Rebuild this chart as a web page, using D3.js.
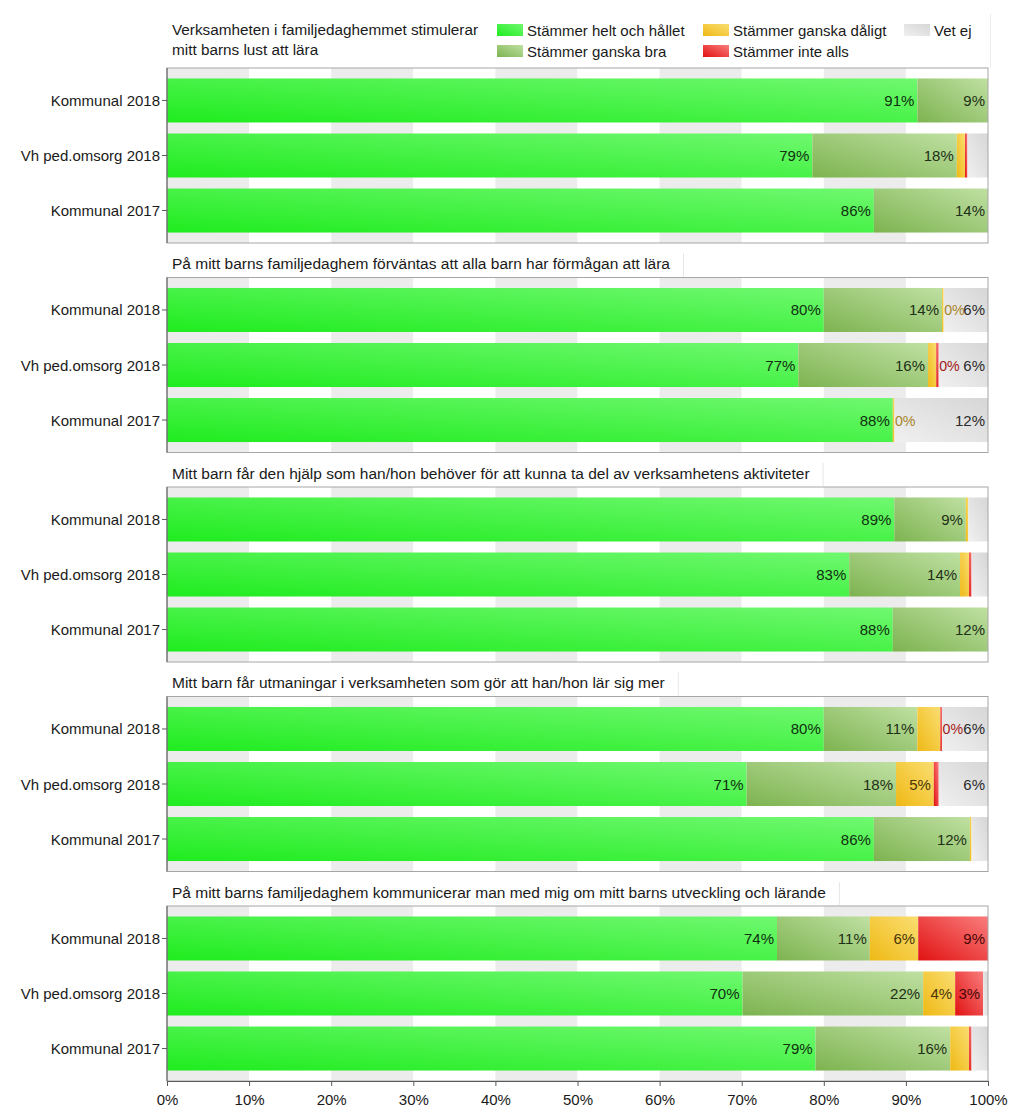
<!DOCTYPE html>
<html><head><meta charset="utf-8">
<script src="https://cdn.jsdelivr.net/npm/d3@7"></script>
<style>
body{margin:0;background:#fff;}
text{font-family:"Liberation Sans",Arial,sans-serif;}
</style></head>
<body><svg id="c" width="1024" height="1116"></svg>
<script>
const categories = ["Kommunal 2018", "Vh ped.omsorg 2018", "Kommunal 2017"];
const seriesNames = ["Stämmer helt och hållet", "Stämmer ganska bra", "Stämmer ganska dåligt", "Stämmer inte alls", "Vet ej"];
const questions = [
  ["Verksamheten i familjedaghemmet stimulerar", "mitt barns lust att lära"],
  ["På mitt barns familjedaghem förväntas att alla barn har förmågan att lära"],
  ["Mitt barn får den hjälp som han/hon behöver för att kunna ta del av verksamhetens aktiviteter"],
  ["Mitt barn får utmaningar i verksamheten som gör att han/hon lär sig mer"],
  ["På mitt barns familjedaghem kommunicerar man med mig om mitt barns utveckling och lärande"]
];
// values per question: rows = categories, columns = series (%)
const q1Values = [[91.4, 8.6, 0, 0, 0], [78.6, 17.6, 1.0, 0.3, 2.5], [86.1, 13.9, 0, 0, 0]];
const q2Values = [[80.0, 14.4, 0.2, 0, 5.4], [76.9, 15.8, 1.0, 0.3, 6.0], [88.4, 0, 0.2, 0, 11.4]];
const q3Values = [[88.6, 8.7, 0.3, 0, 2.4], [83.1, 13.5, 1.1, 0.3, 2.0], [88.4, 11.6, 0, 0, 0]];
const q4Values = [[80.0, 11.4, 2.8, 0.2, 5.6], [70.6, 18.2, 4.6, 0.6, 6.0], [86.1, 11.7, 0.2, 0, 2.0]];
const q5Values = [[74.3, 11.3, 5.9, 8.5, 0], [70.1, 22.0, 3.9, 3.4, 0.6], [79.0, 16.4, 2.3, 0.3, 2.0]];
// value labels shown in the chart (null = not shown)
const q1Labels = [["91%", "9%", null, null, null], ["79%", "18%", null, null, null], ["86%", "14%", null, null, null]];
const q2Labels = [["80%", "14%", "0%", null, "6%"], ["77%", "16%", null, "0%", "6%"], ["88%", null, "0%", null, "12%"]];
const q3Labels = [["89%", "9%", null, null, null], ["83%", "14%", null, null, null], ["88%", "12%", null, null, null]];
const q4Labels = [["80%", "11%", null, "0%", "6%"], ["71%", "18%", "5%", null, "6%"], ["86%", "12%", null, null, null]];
const q5Labels = [["74%", "11%", "6%", "9%", null], ["70%", "22%", "4%", "3%", null], ["79%", "16%", null, null, null]];
const xTicks = [0, 10, 20, 30, 40, 50, 60, 70, 80, 90, 100];

const allValues = [q1Values, q2Values, q3Values, q4Values, q5Values];
const allLabels = [q1Labels, q2Labels, q3Labels, q4Labels, q5Labels];

const gradStops = [["#1fec1f", "#70f870"], ["#7db350", "#bfe0a2"], ["#efb915", "#fade72"], ["#e11212", "#fa7d7d"], ["#f0f0f0", "#d6d6d6"]];
const labelIn = ["#103010", "#1e3016", "#4a3608", "#4a0606", "#2a2a2a"];
const labelOut = ["#103010", "#1e3016", "#a8852a", "#a32020", "#2a2a2a"];

const svg = d3.select("#c");
const defs = svg.append("defs");
gradStops.forEach((s, i) => {
  const g = defs.append("linearGradient").attr("id", "g" + i)
    .attr("x1", 0).attr("y1", 1).attr("x2", 1).attr("y2", 0);
  g.append("stop").attr("offset", 0).attr("stop-color", s[0]);
  g.append("stop").attr("offset", 1).attr("stop-color", s[1]);
});
const sep = defs.append("linearGradient").attr("id", "sep");
sep.append("stop").attr("offset", 0).attr("stop-color", "#ffffff");
sep.append("stop").attr("offset", 0.5).attr("stop-color", "#b4b4b4");
sep.append("stop").attr("offset", 1).attr("stop-color", "#e6e6e6");

const FS = 15;
const x = d3.scaleLinear().domain([0, 100]).range([167, 988]);
const panelTop = d3.scaleLinear().domain([0, 4]).range([68, 906]);
const frameH = 175;

questions.forEach((q, pi) => {
  const top = panelTop(pi);
  const g = svg.append("g");
  const y = d3.scaleBand().domain(categories).range([top, top + frameH]).paddingInner(0.2).paddingOuter(0.19);

  // title
  if (pi === 0) {
    q.forEach((line, li) => g.append("text").attr("x", 172).attr("y", 35 + li * 20)
      .attr("font-size", 15.3).attr("fill", "#1a1a1a").text(line));
  } else {
    const t = g.append("text").attr("x", 172).attr("y", top - 8.5)
      .attr("font-size", 15.5).attr("fill", "#1a1a1a").text(q[0]);
    const w = t.node().getComputedTextLength();
    g.append("line").attr("x1", 172 + w + 13.5).attr("x2", 172 + w + 13.5)
      .attr("y1", top - 24).attr("y2", top - 1).attr("stroke", "#e6e6e6");
  }

  // background stripes
  g.selectAll("rect.stripe").data(d3.range(0, 100, 10)).join("rect")
    .attr("x", d => x(d)).attr("width", d => x(d + 10) - x(d))
    .attr("y", top).attr("height", frameH)
    .attr("fill", (d, i) => i % 2 === 0 ? "#ececec" : "#ffffff");

  // bars
  const vals = allValues[pi], labs = allLabels[pi];
  categories.forEach((cat, ri) => {
    const row = vals[ri];
    const ends = d3.cumsum(row);
    row.forEach((v, si) => {
      if (v <= 0) return;
      const x0 = x(ends[si] - v), x1 = x(ends[si]);
      g.append("rect").attr("x", x0).attr("y", y(cat)).attr("width", Math.max(x1 - x0, 1))
        .attr("height", y.bandwidth()).attr("fill", "url(#g" + si + ")");
    });
    row.forEach((v, si) => {
      const lab = labs[ri][si];
      if (!lab) return;
      const x0 = x(ends[si] - v), x1 = x(ends[si]);
      const t = g.append("text").attr("y", y(cat) + y.bandwidth() / 2 + 5.5)
        .attr("font-size", FS).text(lab);
      const w = t.node().getComputedTextLength();
      if (w + 4 <= x1 - x0) {
        t.attr("x", x1 - 3).attr("text-anchor", "end").attr("fill", labelIn[si]);
      } else {
        t.attr("x", x1 + 0.5).attr("text-anchor", "start").attr("font-size", 14.2)
          .attr("fill", labelOut[si]);
      }
    });
  });

  // frame
  g.append("rect").attr("x", x(0)).attr("y", top).attr("width", x(100) - x(0)).attr("height", frameH)
    .attr("fill", "none").attr("stroke", "#a6a6a6");
  g.append("line").attr("x1", x(0)).attr("x2", x(0)).attr("y1", top).attr("y2", top + frameH)
    .attr("stroke", "#5a5a5a");

  // y axis labels and ticks
  categories.forEach((cat, ri) => {
    const cy = y(cat) + y.bandwidth() / 2;
    g.append("text").attr("x", 160).attr("y", cy + 5.5).attr("text-anchor", "end")
      .attr("font-size", FS).attr("fill", "#1a1a1a").text(cat);
    g.append("line").attr("x1", 162).attr("x2", 167).attr("y1", cy).attr("y2", cy).attr("stroke", "#5a5a5a");
    if (ri < categories.length - 1) {
      const sy = Math.round(cy + y.step() / 2) + 0.5;
      g.append("line").attr("x1", 15).attr("x2", 163).attr("y1", sy).attr("y2", sy)
        .attr("stroke", "url(#sep)").attr("stroke-width", 1);
    }
  });
});

// x axis
const lastBottom = panelTop(4) + frameH;
const ax = svg.append("g").attr("transform", `translate(0,${lastBottom})`)
  .call(d3.axisBottom(x).tickValues(xTicks).tickSize(5).tickFormat(d => d + "%"));
ax.select(".domain").attr("stroke", "#5a5a5a");
ax.selectAll(".tick line").attr("stroke", "#5a5a5a");
ax.selectAll(".tick text").attr("font-size", FS).attr("fill", "#1a1a1a")
  .attr("font-family", "Liberation Sans, Arial, sans-serif").attr("dy", "1.05em");

// legend
const legendCols = [497, 703, 904];
const lg = svg.append("g");
seriesNames.forEach((name, i) => {
  const col = Math.floor(i / 2), row = i % 2;
  const lx = legendCols[col], ly = 30 + row * 21;
  lg.append("rect").attr("x", lx).attr("y", ly - 6).attr("width", 26).attr("height", 12)
    .attr("fill", "url(#g" + i + ")");
  lg.append("text").attr("x", lx + 30).attr("y", ly + 5.5).attr("font-size", FS)
    .attr("fill", "#1a1a1a").text(name);
});
lg.append("line").attr("x1", 990.5).attr("x2", 990.5).attr("y1", 14).attr("y2", 68).attr("stroke", "#ececec");
</script></body></html>
